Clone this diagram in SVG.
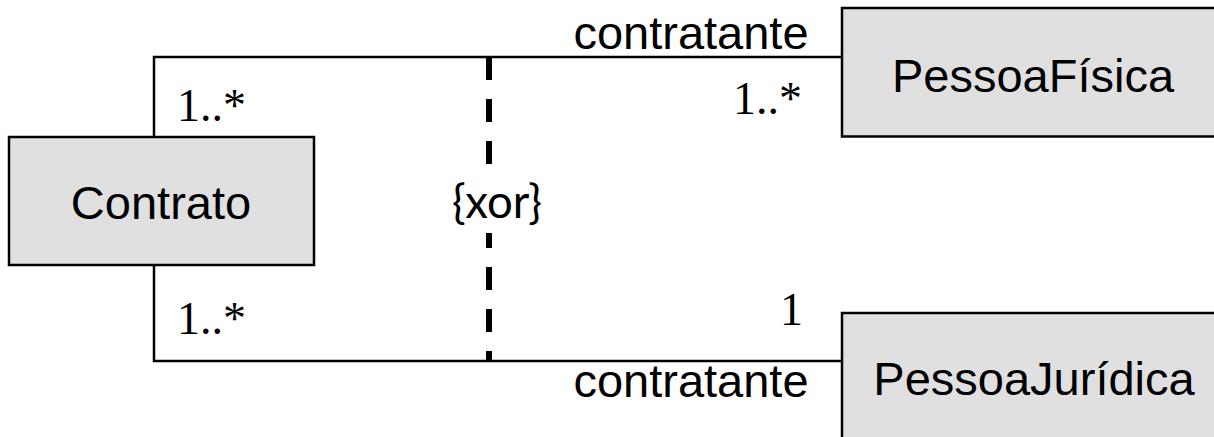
<svg xmlns="http://www.w3.org/2000/svg" width="1214" height="437" viewBox="0 0 1214 437">
<style>
.box{fill:#e0e0e0;stroke:#000;stroke-width:2.5}
.name{font-family:"Liberation Sans",Arial,sans-serif;font-size:47px;fill:#000}
.role{font-family:"Liberation Sans",Arial,sans-serif;font-size:47px;fill:#000}
.mult{font-family:"Liberation Serif","Times New Roman",serif;font-size:46px;fill:#000}
.line{fill:none;stroke:#000;stroke-width:2.5}
.xor{fill:none;stroke:#000;stroke-width:6;stroke-dasharray:23 19}
.cons{font-family:Lato,"Open Sans",sans-serif;font-size:46px;fill:#000}
</style>
<rect width="1214" height="437" fill="#fff"/>
<g id="connectors">
<polyline class="line" points="154,137 154,57 842,57"/>
<polyline class="line" points="154,265 154,361 842,361"/>
<line class="xor" x1="489" y1="57" x2="489" y2="361"/>
<rect x="440" y="166" width="110" height="67" fill="#fff"/>
<text class="cons" x="497" y="218" text-anchor="middle" textLength="90" lengthAdjust="spacingAndGlyphs">{xor}</text>
<text class="role" x="691" y="49" text-anchor="middle">contratante</text>
<text class="role" x="691" y="397" text-anchor="middle">contratante</text>
<text class="mult" x="177" y="121">1..*</text>
<text class="mult" x="177" y="334">1..*</text>
<text class="mult" x="802" y="114" text-anchor="end">1..*</text>
<text class="mult" x="803" y="325" text-anchor="end">1</text>
</g>
<g id="Contrato">
<rect class="box" x="9" y="137" width="305" height="128"/>
<text class="name" x="161" y="219" text-anchor="middle">Contrato</text>
</g>
<g id="PessoaFisica">
<rect class="box" x="842" y="8" width="380" height="128.5"/>
<text class="name" x="1033" y="92" text-anchor="middle">PessoaFísica</text>
</g>
<g id="PessoaJuridica">
<rect class="box" x="842" y="313" width="380" height="140"/>
<text class="name" x="1034" y="395" text-anchor="middle">PessoaJurídica</text>
</g>
</svg>
